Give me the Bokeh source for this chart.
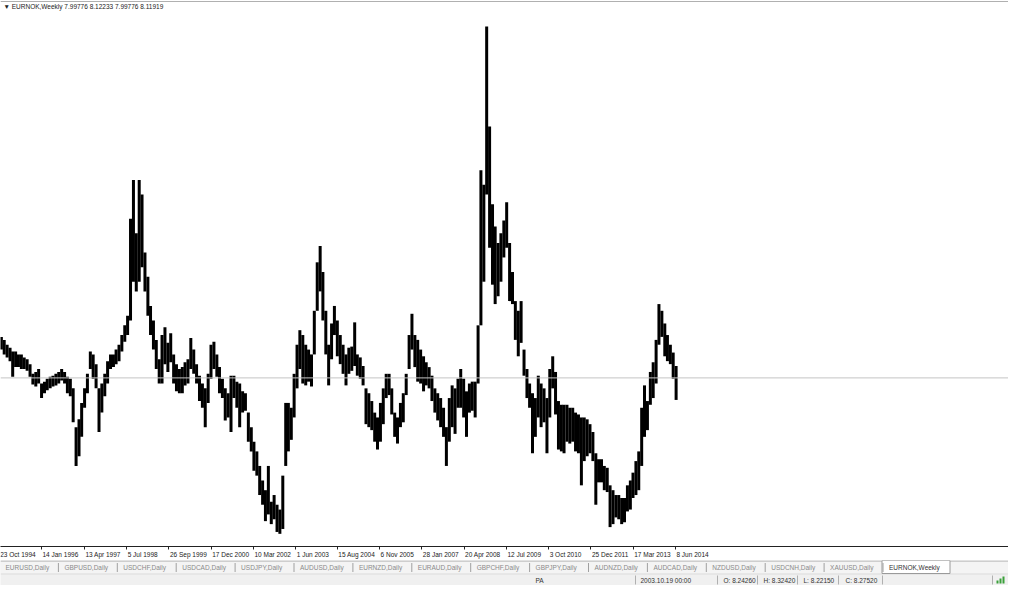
import pandas as pd
from bokeh.plotting import figure
from bokeh.models import Range1d, FixedTicker, Span, Label, ColumnDataSource
from bokeh.layouts import column
from bokeh.embed import file_html
from bokeh.resources import INLINE
from bokeh.core.properties import value

# ---------------- data ----------------
symbol = "EURNOK,Weekly"
header_ohlc = ["7.99776", "8.12233", "7.99776", "8.11919"]
bid = 8.11919

# monthly bars, Nov 1994 .. Jun 2014 (mid-month)
months = pd.date_range("1994-11-01", "2014-06-01", freq="MS") + pd.Timedelta(days=14)

high = [
    8.339, 8.323,
    8.297, 8.281, 8.261, 8.261, 8.245, 8.245, 8.229, 8.219, 8.193, 8.141, 8.151, 8.167,
    8.089, 8.099, 8.115, 8.125, 8.131, 8.141, 8.151, 8.167, 8.151, 8.125, 8.115, 8.063,
    7.855, 7.897, 7.985, 8.063, 8.141, 8.261, 8.245, 8.193, 8.063, 8.089, 8.141, 8.209,
    8.245, 8.245, 8.271, 8.297, 8.349, 8.401, 8.453, 8.973, 9.181, 8.895, 9.181, 9.103,
    8.791, 8.661, 8.505, 8.427, 8.323, 8.219, 8.349, 8.391, 8.307, 8.359, 8.245, 8.193,
    8.167, 8.177, 8.203, 8.219, 8.333, 8.271, 8.193, 8.131, 8.089, 8.063, 8.141, 8.297,
    8.313, 8.245, 8.177, 8.115, 8.063, 8.037, 8.131, 8.131, 8.099, 8.089, 8.047, 8.037,
    7.933, 7.855, 7.777, 7.725, 7.647, 7.569, 7.517, 7.647, 7.455, 7.491, 7.439, 7.413,
    7.595, 7.985, 7.985, 7.959, 8.141, 8.297, 8.375, 8.349, 8.297, 8.271, 8.245, 8.479,
    8.739, 8.827, 8.687, 8.479, 8.297, 8.411, 8.505, 8.427, 8.349, 8.297, 8.245, 8.281,
    8.287, 8.417, 8.245, 8.229, 8.183, 8.063, 8.037, 7.995, 7.933, 7.907, 7.985, 8.063,
    8.141, 8.141, 8.063, 7.933, 7.907, 7.985, 8.037, 8.141, 8.349, 8.463, 8.349, 8.323,
    8.271, 8.235, 8.203, 8.177, 8.131, 8.063, 8.037, 8.011, 7.959, 7.855, 8.011, 8.079,
    8.063, 8.115, 8.167, 8.115, 8.047, 8.089, 8.099, 8.099, 8.401, 9.233, 9.155, 10.003,
    9.467, 9.051, 8.931, 8.843, 8.895, 8.963, 9.061, 8.843, 8.687, 8.531, 8.479, 8.531,
    8.271, 8.167, 8.089, 8.037, 8.011, 8.131, 8.089, 8.063, 8.011, 8.167, 8.235, 8.151,
    7.995, 7.975, 7.975, 7.975, 7.959, 7.959, 7.933, 7.923, 7.907, 7.907, 7.897, 7.871,
    7.829, 7.715, 7.683, 7.683, 7.647, 7.637, 7.543, 7.517, 7.491, 7.491, 7.475, 7.475,
    7.543, 7.569, 7.611, 7.673, 7.725, 7.959, 8.079, 7.995, 8.151, 8.203, 8.323, 8.515,
    8.479, 8.411, 8.349, 8.297, 8.255, 8.183,
]

low = [
    8.271, 8.245,
    8.229, 8.209, 8.125, 8.177, 8.177, 8.167, 8.167, 8.157, 8.125, 8.084, 8.073, 8.089,
    8.011, 8.037, 8.053, 8.063, 8.073, 8.079, 8.089, 8.105, 8.089, 8.037, 8.021, 7.881,
    7.647, 7.699, 7.803, 7.959, 8.037, 8.167, 8.115, 8.063, 7.829, 7.933, 8.021, 8.089,
    8.167, 8.177, 8.193, 8.209, 8.261, 8.313, 8.349, 8.427, 8.635, 8.583, 8.635, 8.713,
    8.583, 8.453, 8.349, 8.271, 8.167, 8.089, 8.089, 8.193, 8.151, 8.203, 8.089, 8.047,
    8.037, 8.037, 8.079, 8.089, 8.167, 8.141, 8.089, 7.995, 7.959, 7.855, 7.985, 8.115,
    8.167, 8.125, 8.037, 8.011, 7.891, 7.907, 7.829, 8.011, 7.959, 7.855, 7.933, 7.943,
    7.777, 7.725, 7.621, 7.595, 7.491, 7.439, 7.351, 7.387, 7.335, 7.361, 7.293, 7.283,
    7.309, 7.647, 7.725, 7.787, 7.907, 8.063, 8.167, 8.089, 8.079, 8.099, 8.073, 8.245,
    8.479, 8.583, 8.427, 8.245, 8.079, 8.219, 8.349, 8.235, 8.193, 8.141, 8.079, 8.141,
    8.157, 8.183, 8.131, 8.115, 8.079, 7.871, 7.855, 7.839, 7.777, 7.735, 7.777, 7.871,
    8.011, 8.027, 7.923, 7.803, 7.767, 7.855, 7.881, 8.027, 8.167, 8.271, 8.177, 8.099,
    8.089, 8.047, 8.079, 8.063, 7.995, 7.933, 7.891, 7.855, 7.803, 7.647, 7.777, 7.855,
    7.819, 7.959, 7.959, 7.907, 7.803, 7.933, 7.943, 7.907, 8.089, 8.401, 8.635, 9.103,
    8.817, 8.619, 8.515, 8.557, 8.635, 8.765, 8.817, 8.531, 8.515, 8.323, 8.235, 8.307,
    8.131, 8.011, 7.959, 7.715, 7.803, 7.907, 7.855, 7.881, 7.715, 7.907, 8.063, 7.923,
    7.735, 7.725, 7.715, 7.777, 7.767, 7.777, 7.725, 7.715, 7.543, 7.673, 7.699, 7.715,
    7.673, 7.439, 7.559, 7.559, 7.517, 7.507, 7.319, 7.335, 7.371, 7.361, 7.335, 7.345,
    7.403, 7.413, 7.475, 7.491, 7.517, 7.647, 7.803, 7.839, 7.975, 8.011, 8.089, 8.297,
    8.339, 8.235, 8.209, 8.193, 8.115, 8.001,
]

tick_labels = ["23 Oct 1994", "14 Jan 1996", "13 Apr 1997", "5 Jul 1998", "26 Sep 1999",
               "17 Dec 2000", "10 Mar 2002", "1 Jun 2003", "15 Aug 2004", "6 Nov 2005",
               "28 Jan 2007", "20 Apr 2008", "12 Jul 2009", "3 Oct 2010", "25 Dec 2011",
               "17 Mar 2013", "8 Jun 2014"]

tabs = ["EURUSD,Daily", "GBPUSD,Daily", "USDCHF,Daily", "USDCAD,Daily", "USDJPY,Daily",
        "AUDUSD,Daily", "EURNZD,Daily", "EURAUD,Daily", "GBPCHF,Daily", "GBPJPY,Daily",
        "AUDNZD,Daily", "AUDCAD,Daily", "NZDUSD,Daily", "USDCNH,Daily", "XAUUSD,Daily",
        "EURNOK,Weekly"]

status = ["PA", "2003.10.19 00:00", "O: 8.24260", "H: 8.32420", "L: 8.22150", "C: 8.27520"]

# ---------------- layout ----------------
FONT = "Liberation Sans"
W = 1008
FRAME_H = 546
origin = pd.Timestamp("1994-10-23")
px_per_week = 0.6604
x_at_origin = -1.3
x_start = (origin + pd.Timedelta(weeks=(0 - x_at_origin) / px_per_week)).to_pydatetime()
x_end = (origin + pd.Timedelta(weeks=(W - x_at_origin) / px_per_week)).to_pydatetime()
y_lo, y_hi = 7.215, 10.143
px_price = (y_hi - y_lo) / FRAME_H

src = ColumnDataSource(dict(date=months, high=high, low=low))
tick_dates = [pd.Timestamp(s) for s in tick_labels]
tick_ms = [int(t.value // 10**6) for t in tick_dates]

# main price chart (frame only, no axes)
p = figure(width=W, height=FRAME_H, x_axis_type="datetime",
           x_range=Range1d(x_start, x_end), y_range=Range1d(y_lo, y_hi),
           x_axis_location=None, y_axis_location=None,
           output_backend="svg", toolbar_location=None, min_border=0)
p.grid.visible = False
p.outline_line_color = None
p.background_fill_color = "white"
p.border_fill_color = "white"

p.add_layout(Span(location=y_hi - px_price, dimension="width", line_color="#b0b0b0", line_width=1))
p.add_layout(Span(location=bid, dimension="width", line_color="#c4c4c4", line_width=1))
p.segment(x0="date", y0="low", x1="date", y1="high", source=src,
          line_color="black", line_width=3.0)

p.add_layout(Label(x=x_start, y=y_hi, x_offset=3, y_offset=-2,
                   text="\u25bc " + symbol + "  " + " ".join(header_ohlc),
                   text_font=FONT, text_font_size="6.5px", text_color="#222222",
                   text_baseline="top"))

# time axis strip: axis line on top, ticks pointing down, left-aligned labels
t = figure(width=W, height=14, x_axis_type="datetime",
           x_range=p.x_range, y_range=Range1d(0, 1),
           x_axis_location="above", y_axis_location=None,
           output_backend="svg", toolbar_location=None, min_border=0)
t.grid.visible = False
t.outline_line_color = None
t.border_fill_color = "white"
t.background_fill_color = "white"
ax = t.xaxis[0]
ax.ticker = FixedTicker(ticks=tick_ms)
ax.major_label_overrides = {m: "" for m in tick_ms}
ax.major_label_standoff = 0
ax.axis_line_color = "#222222"
ax.major_tick_line_color = "#222222"
ax.major_tick_in = 3
ax.major_tick_out = 0
ax.minor_tick_line_color = None
t.text(x=tick_dates, y=[0.45] * len(tick_dates), text=tick_labels, x_offset=1,
       text_font=value(FONT), text_font_size="6.5px", text_color="#222222",
       text_align="left", text_baseline="middle")

# ---------------- tab strip + status bar ----------------
b = figure(width=W, height=25, x_range=Range1d(0, W), y_range=Range1d(25, 0),
           x_axis_location=None, y_axis_location=None, output_backend="svg",
           toolbar_location=None, min_border=0)
b.grid.visible = False
b.outline_line_color = None
b.background_fill_color = "#f0f0f0"
b.border_fill_color = "#f0f0f0"

b.quad(left=[0], right=[W], top=[0], bottom=[13], fill_color="#f4f4f4", line_color=None)
b.segment(x0=[0], x1=[W], y0=[0.5], y1=[0.5], line_color="#a8a8a8", line_width=1)
b.segment(x0=[0], x1=[W], y0=[13.5], y1=[13.5], line_color="#dcdcdc", line_width=1)

tab_x = [5 + 58.9 * i for i in range(len(tabs))]
b.quad(left=[tab_x[-1] - 7], right=[tab_x[-1] + 61], top=[0], bottom=[13],
       fill_color="white", line_color="#9a9a9a")
b.text(x=tab_x[:-1], y=[7] * (len(tabs) - 1), text=tabs[:-1], text_font=value(FONT),
       text_font_size="6.5px", text_color="#8a8a8a", text_baseline="middle")
b.text(x=[tab_x[-1]], y=[7], text=[tabs[-1]], text_font=value(FONT),
       text_font_size="6.5px", text_color="#333333", text_baseline="middle")
sep_x = [x - 6 for x in tab_x[1:]]
b.segment(x0=sep_x, x1=sep_x, y0=[2.5] * len(sep_x), y1=[11.5] * len(sep_x),
          line_color="#a0a0a0", line_width=1)

status_x = [535, 640, 723, 763, 803, 845]
b.text(x=status_x, y=[19.5] * len(status), text=status, text_font=value(FONT),
       text_font_size="6.5px", text_color="#333333", text_baseline="middle")
st_sep = [635, 717, 757, 797, 838, 882, 992]
b.segment(x0=st_sep, x1=st_sep, y0=[15] * len(st_sep), y1=[24] * len(st_sep),
          line_color="#b0b0b0", line_width=1)
b.quad(left=[996, 999, 1002], right=[998, 1001, 1004], top=[20, 18, 16], bottom=[23, 23, 23],
       fill_color="#3aa03a", line_color=None)

layout = column(p, t, b, spacing=0)
open("out.html", "w").write(file_html(layout, INLINE))
